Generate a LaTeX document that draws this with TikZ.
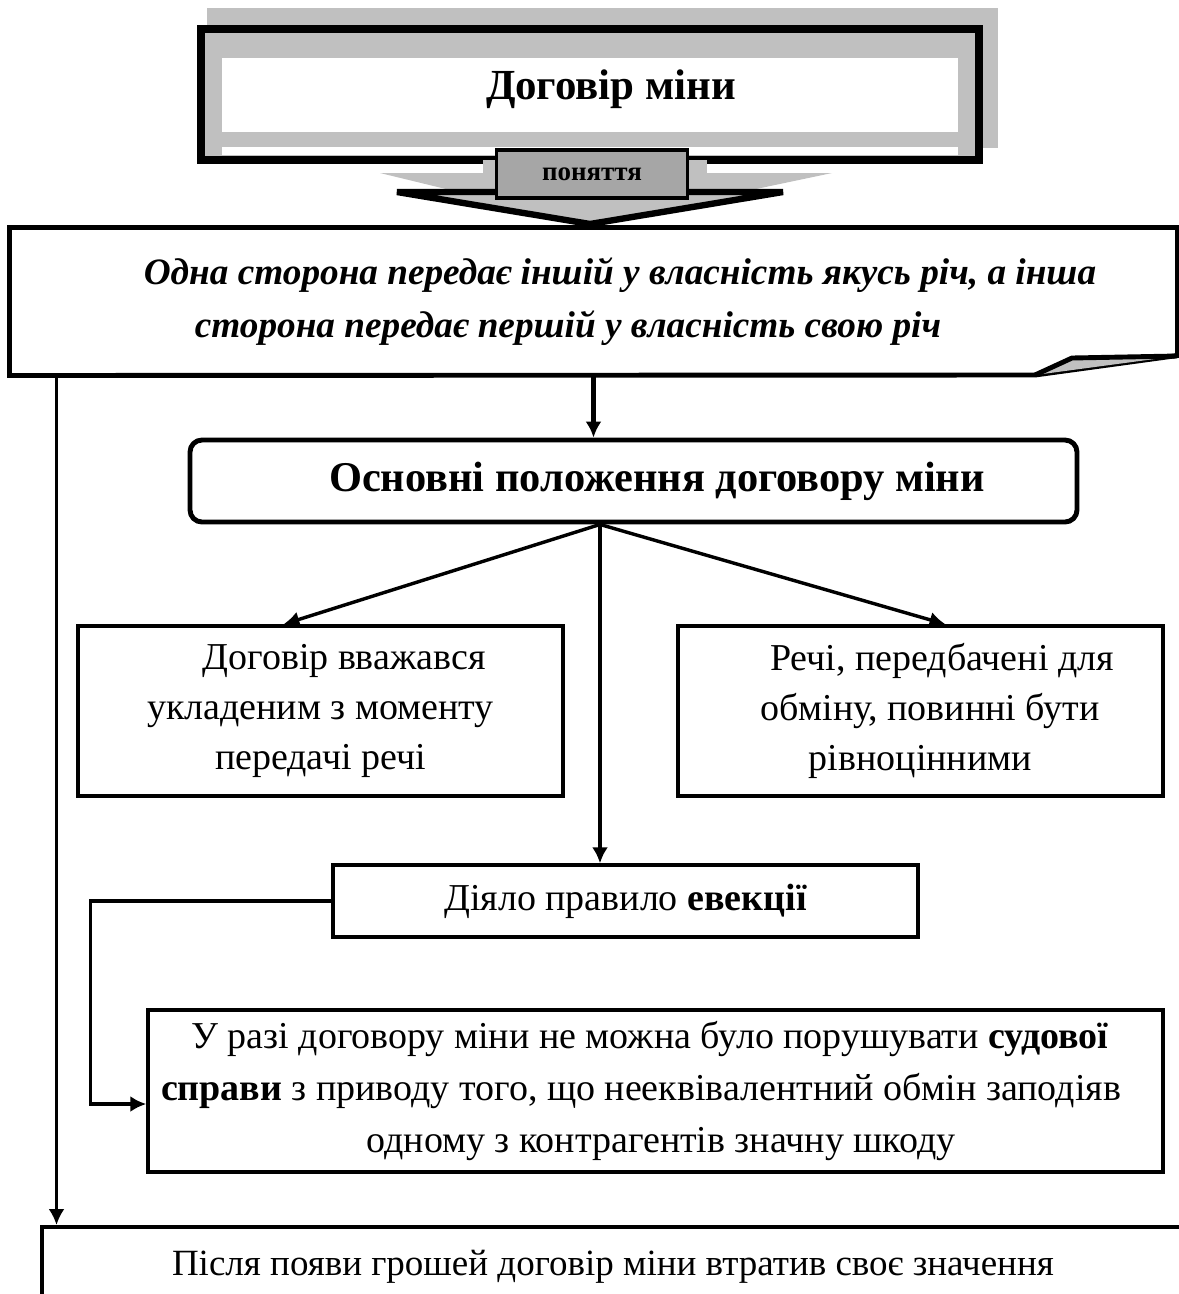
\documentclass[tikz,border=0pt]{standalone}
\usepackage{fontspec}
\setmainfont{Liberation Serif}
\usetikzlibrary{arrows.meta,positioning,calc}
\definecolor{FrameGray}{RGB}{192,192,192}
\definecolor{TagGray}{RGB}{166,166,166}
\newlength\dpx
\setlength\dpx{0.408pt}

\begin{document}
\begin{tikzpicture}[x=0.408pt,y=-0.408pt,>={Latex[length=6.5pt,width=6.5pt]},
    box/.style={draw,line width=1.4pt,align=center,inner sep=0pt,
      font=\fontsize{15.5}{20.4}\selectfont},
    link/.style={->,line width=1.4pt}]
  \useasboundingbox (0,0) rectangle (1179,1294);
  \clip (0,0) rectangle (1179,1294);
  % title frame with shadow
  \fill[FrameGray] (207,8) rectangle (998,148);
  \draw[line width=3.6pt,fill=FrameGray] (201,29) rectangle (979,160);
  \fill[white] (222,58) rectangle (958,132);
  \fill[white] (222,147) rectangle (958,155);
  \node (title) at (611,89) {\fontsize{17.5}{21}\selectfont\bfseries Договір міни};
  % block arrow under the title
  \fill[FrameGray] (483,160) rectangle (707,175);
  \fill[FrameGray] (380,173) -- (832,173) -- (590,224) -- cycle;
  \draw[line width=2.6pt,fill=FrameGray,line join=miter] (397,192) -- (783,192) -- (590,224) -- cycle;
  \node[draw,line width=1.3pt,fill=TagGray,inner sep=0pt,minimum width=191\dpx,minimum height=48\dpx,
    font=\fontsize{11}{13}\selectfont\bfseries] (tag) at (592,174) {поняття};
  % definition
  \node[align=center,inner sep=0pt,minimum width=1167\dpx,minimum height=147\dpx,
    font=\fontsize{15.2}{21.6}\selectfont\bfseries\itshape] (concept) at (593.5,301.5)
    {\hspace*{53\dpx}Одна сторона передає іншій у власність якусь річ, а інша\\
     сторона передає першій у власність свою річ\kern51\dpx};
  \draw[line width=2pt,line join=miter] (concept.south west) -- (concept.north west)
    -- (concept.north east) -- ++(0,128) -- (1035,375) -- cycle;
  \draw[line width=2pt,fill=FrameGray,line join=miter] (1035,375) -- (1072,358) -- (1177,356);
  % main provisions
  \node[draw,line width=2pt,rounded corners=12\dpx,inner sep=0pt,minimum width=887\dpx,minimum height=82\dpx,
    font=\fontsize{17.3}{20}\selectfont\bfseries] (basics) at (633.5,481)
    {\hspace*{47\dpx}Основні положення договору міни};
  \node[box,minimum width=485\dpx,minimum height=170\dpx] (enter) at (320.5,711)
    {\hspace*{47\dpx}Договір вважався\\укладеним з моменту\\передачі речі};
  \node[box,minimum width=485\dpx,minimum height=170\dpx] (equal) at (920.5,711)
    {\hspace*{43\dpx}Речі, передбачені для\\\hspace*{19\dpx}обміну, повинні бути\\рівноцінними};
  \node[box,minimum width=585\dpx,minimum height=72\dpx] (evict) at (625.5,901)
    {Діяло правило \textbf{евекції}};
  \node[box,minimum width=1015\dpx,minimum height=162\dpx,font=\fontsize{15.5}{21.4}\selectfont] (claim) at (655.5,1091)
    {У разі договору міни не можна було порушувати \textbf{судової}\kern11\dpx\\
     \textbf{справи} з приводу того, що нееквівалентний обмін заподіяв\kern29\dpx\\
     \hspace*{11\dpx}одному з контрагентів значну шкоду};
  \node[draw,line width=1.6pt,inner sep=0pt,anchor=north west,minimum width=1142\dpx,minimum height=80\dpx,
    font=\fontsize{15.1}{18}\selectfont] (money) at (40,1225)
    {Після появи грошей договір міни втратив своє значення};
  % connectors
  \coordinate (fork) at ([xshift=-33.5\dpx]basics.south);
  \coordinate (drop) at ([xshift=47\dpx]concept.south west);
  \draw[link,line width=1.8pt] (concept.south) -- (concept.south |- basics.north);
  \draw[link] (fork) -- ([xshift=-37\dpx]enter.north);
  \draw[link] (fork) -- ([xshift=25\dpx]equal.north);
  \draw[link] (fork) -- (fork |- evict.north);
  \draw[link] (evict.west) -- ++(-241,0) |- ([yshift=-13\dpx]claim.west);
  \draw[link,line width=1.2pt] (drop) -- (drop |- money.north);
\end{tikzpicture}
\end{document}
